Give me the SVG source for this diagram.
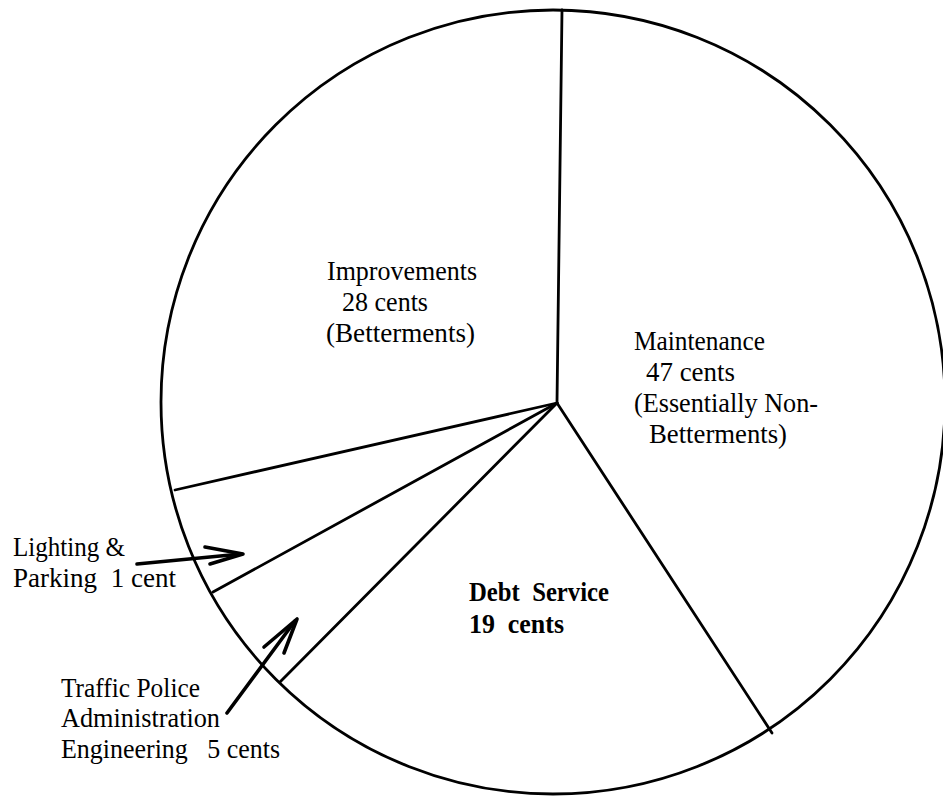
<svg xmlns="http://www.w3.org/2000/svg" width="943" height="797" viewBox="0 0 943 797">
<style>
.ln{fill:none;stroke:#000;stroke-width:2.8;stroke-linecap:round;stroke-linejoin:round}
.ar{fill:none;stroke:#000;stroke-width:3.6;stroke-linecap:round;stroke-linejoin:round}
.t{font-family:"Liberation Serif","Times New Roman",serif;font-size:28px;fill:#000}
.s{font-family:"Liberation Serif","Times New Roman",serif;font-size:27px;fill:#000}
.b{font-family:"Liberation Serif","Times New Roman",serif;font-size:27px;font-weight:bold;fill:#000}
</style>
<rect width="943" height="797" fill="#fff"/>
<g id="pie">
<circle class="ln" cx="553" cy="402" r="392"/>
</g>
<g id="connectors">
<line class="ln" x1="557" y1="403" x2="562" y2="10"/>
<line class="ln" x1="557" y1="403" x2="772" y2="733"/>
<line class="ln" x1="557" y1="403" x2="280" y2="682"/>
<line class="ln" x1="557" y1="403" x2="213" y2="592"/>
<line class="ln" x1="557" y1="403" x2="175" y2="490"/>
<path class="ar" d="M137,564 L241,554"/>
<path class="ar" d="M205,547 L243,554 L210,564"/>
<path class="ar" d="M227,713 L295,621"/>
<path class="ar" d="M264,647 L297,619 L284,653"/>
</g>
<g id="improvements">
<text class="t" x="327" y="280" textLength="150" lengthAdjust="spacingAndGlyphs">Improvements</text>
<text class="t" x="342" y="311" textLength="86" lengthAdjust="spacingAndGlyphs">28 cents</text>
<text class="t" x="326" y="342" textLength="149" lengthAdjust="spacingAndGlyphs">(Betterments)</text>
</g>
<g id="maintenance">
<text class="t" x="634" y="350" textLength="131" lengthAdjust="spacingAndGlyphs">Maintenance</text>
<text class="t" x="646" y="381" textLength="89" lengthAdjust="spacingAndGlyphs">47 cents</text>
<text class="t" x="634" y="412" textLength="184" lengthAdjust="spacingAndGlyphs">(Essentially Non-</text>
<text class="t" x="649" y="443" textLength="138" lengthAdjust="spacingAndGlyphs">Betterments)</text>
</g>
<g id="debt-service">
<text class="b" x="469" y="601" textLength="140" lengthAdjust="spacingAndGlyphs" xml:space="preserve">Debt  Service</text>
<text class="b" x="469" y="633" textLength="95" lengthAdjust="spacingAndGlyphs" xml:space="preserve">19  cents</text>
</g>
<g id="lighting-parking">
<text class="s" x="13" y="556" textLength="112" lengthAdjust="spacingAndGlyphs">Lighting &amp;</text>
<text class="s" x="13" y="587" textLength="163" lengthAdjust="spacingAndGlyphs" xml:space="preserve">Parking  1 cent</text>
</g>
<g id="traffic">
<text class="s" x="61" y="697" textLength="139" lengthAdjust="spacingAndGlyphs">Traffic Police</text>
<text class="s" x="61" y="727" textLength="159" lengthAdjust="spacingAndGlyphs">Administration</text>
<text class="s" x="61" y="758" textLength="219" lengthAdjust="spacingAndGlyphs" xml:space="preserve">Engineering   5 cents</text>
</g>
</svg>
